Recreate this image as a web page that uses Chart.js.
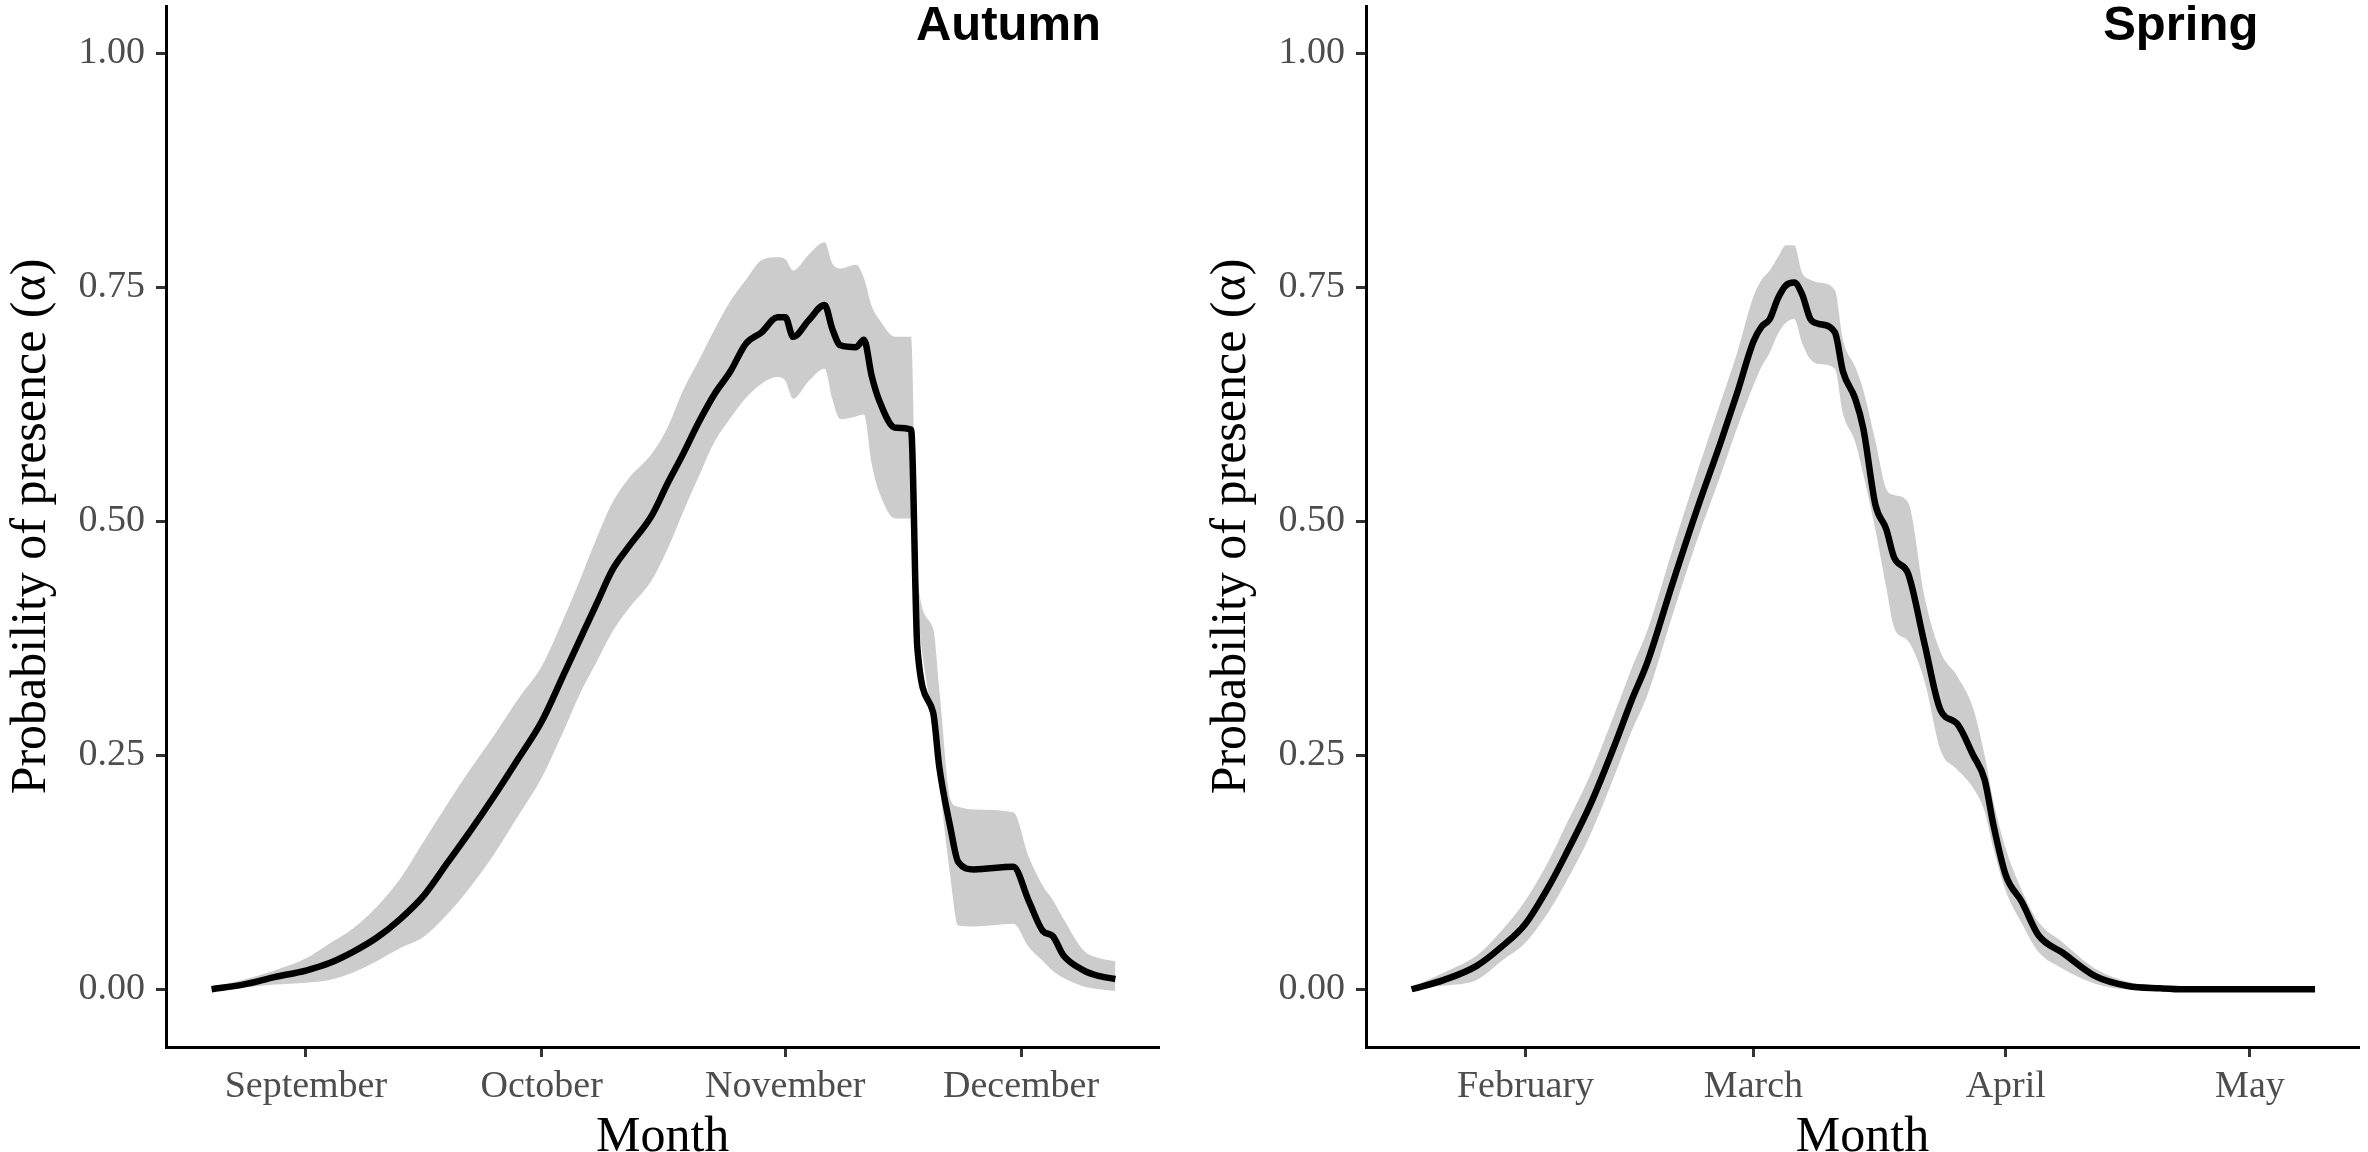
<!DOCTYPE html>
<html><head><meta charset="utf-8">
<script src="https://cdn.jsdelivr.net/npm/chart.js@4/dist/chart.umd.min.js"></script>
<style>
html,body{margin:0;padding:0;background:#fff;width:2368px;height:1152px;overflow:hidden}
.panel{position:absolute;top:0;height:1152px}
#p1{left:0;width:1200px}
#p2{left:1200px;width:1168px}
</style></head><body>
<div class="panel" id="p1"><canvas id="c1"></canvas></div>
<div class="panel" id="p2"><canvas id="c2"></canvas></div>
<script>
// ---------- Autumn (x = days after 1 September) ----------
const autumnDays  = [-12,-8,-4,0,3,6,9,12,15,18,21,24,27,30,33,35,37,39,41,44,46,48,50,52,54,56,58,60,61,62,64,66,67,68,70,71,72,73,75,77,77.8,79.8,80.6,82,83,85,90,92,93.8,95,96.4,99,101,103];
const autumnMean  = [0.000,0.005,0.013,0.020,0.028,0.040,0.055,0.075,0.100,0.135,0.170,0.207,0.246,0.286,0.340,0.376,0.412,0.448,0.472,0.506,0.540,0.572,0.606,0.636,0.660,0.690,0.702,0.718,0.718,0.697,0.715,0.731,0.705,0.688,0.686,0.694,0.655,0.628,0.600,0.598,0.365,0.296,0.237,0.173,0.136,0.128,0.131,0.094,0.062,0.057,0.036,0.020,0.014,0.011];
const autumnUpper = [0.003,0.010,0.020,0.033,0.049,0.065,0.088,0.118,0.158,0.198,0.236,0.272,0.310,0.345,0.400,0.440,0.482,0.520,0.545,0.572,0.600,0.640,0.672,0.705,0.735,0.758,0.779,0.782,0.780,0.768,0.785,0.798,0.775,0.770,0.774,0.760,0.730,0.715,0.697,0.697,0.440,0.386,0.320,0.203,0.195,0.192,0.189,0.141,0.110,0.096,0.075,0.041,0.033,0.030];
const autumnLower = [0.000,0.002,0.005,0.007,0.010,0.018,0.030,0.044,0.056,0.080,0.110,0.145,0.185,0.226,0.280,0.318,0.350,0.382,0.406,0.437,0.470,0.510,0.548,0.585,0.610,0.632,0.647,0.654,0.650,0.631,0.650,0.663,0.630,0.609,0.612,0.614,0.561,0.530,0.503,0.503,0.407,0.280,0.220,0.120,0.068,0.067,0.070,0.045,0.030,0.020,0.012,0.003,0.000,-0.002];
const autumnTickDays   = [0,30,61,91];
const autumnTickLabels = ['September','October','November','December'];

// ---------- Spring (x = days after 1 February) ----------
const springDays  = [-14,-10,-6,-3,0,3,5,8,11,13,15,18,21,24,26,28,29,30,31,32,33,34,35,36,38,39,40.5,41.5,43,44.3,45.3,47,49,51,53,55,56.4,57.5,59,61,63,66,70,74,78,81,90,97];
const springMean  = [0.000,0.010,0.025,0.045,0.070,0.112,0.145,0.198,0.262,0.308,0.350,0.432,0.511,0.585,0.637,0.692,0.708,0.716,0.738,0.752,0.755,0.742,0.716,0.711,0.702,0.660,0.631,0.599,0.517,0.492,0.461,0.444,0.370,0.298,0.284,0.250,0.224,0.175,0.122,0.093,0.058,0.039,0.014,0.0035,0.001,0.000,0.000,0.000];
const springUpper = [0.002,0.018,0.036,0.062,0.095,0.140,0.176,0.230,0.296,0.342,0.384,0.468,0.550,0.628,0.680,0.740,0.758,0.768,0.782,0.795,0.795,0.765,0.758,0.755,0.747,0.694,0.665,0.640,0.585,0.535,0.528,0.520,0.420,0.360,0.335,0.300,0.250,0.200,0.150,0.105,0.072,0.050,0.022,0.008,0.002,0.000,0.000,0.000];
const springLower = [0.000,0.004,0.010,0.030,0.050,0.085,0.115,0.166,0.230,0.275,0.315,0.398,0.478,0.550,0.600,0.645,0.665,0.680,0.700,0.712,0.716,0.690,0.673,0.668,0.663,0.615,0.585,0.550,0.490,0.430,0.386,0.372,0.330,0.255,0.235,0.215,0.190,0.150,0.105,0.070,0.040,0.022,0.006,0.000,0.000,0.000,0.000,0.000];
const springTickDays   = [0,28,59,89];
const springTickLabels = ['February','March','April','May'];

const yTickValues = [0,0.25,0.5,0.75,1];

const SERIF = '"Liberation Serif","Times New Roman",serif';
const SANS  = '"Liberation Sans",Arial,sans-serif';

const panelTitlePlugin = {
  id: 'panelTitle',
  afterDraw(chart, args, opts) {
    const {ctx, chartArea} = chart;
    const x = chart.scales.x.getPixelForValue(opts.day);
    ctx.save();
    ctx.font = 'bold 49px ' + SANS;
    ctx.fillStyle = '#000';
    ctx.textAlign = 'center';
    ctx.textBaseline = 'alphabetic';
    ctx.fillText(opts.text, x, chartArea.top + 34);
    ctx.restore();
  }
};

function pts(xs, ys){ return xs.map((x,i)=>({x:x, y:ys[i]})); }

function makePanel(id, cfg){
  new Chart(document.getElementById(id), {
    type: 'line',
    data: {
      datasets: [
        {data: pts(cfg.days, cfg.lower), order:2, borderColor:'rgba(0,0,0,0)', borderWidth:0, pointRadius:0, fill:false, backgroundColor:'#cccccc', cubicInterpolationMode:'monotone'},
        {data: pts(cfg.days, cfg.upper), order:1, borderColor:'rgba(0,0,0,0)', borderWidth:0, pointRadius:0, fill:'-1', backgroundColor:'#cccccc', cubicInterpolationMode:'monotone'},
        {data: pts(cfg.days, cfg.mean), order:0, borderColor:'#000', borderWidth:6.5, pointRadius:0, fill:false, cubicInterpolationMode:'monotone', borderJoinStyle:'round'}
      ]
    },
    options: {
      responsive: true, maintainAspectRatio: false, animation: false, devicePixelRatio: 1,
      layout: {padding: {left:0, top:6, right:cfg.padRight, bottom:0}},
      plugins: {legend:{display:false}, tooltip:{enabled:false}, panelTitle:{text:cfg.title, day:cfg.titleDay}},
      scales: {
        x: {
          type:'linear', min:cfg.xMin, max:cfg.xMax,
          afterBuildTicks: a => { a.ticks = cfg.tickDays.map(v=>({value:v})); },
          afterFit: a => { a.height = 105; a.paddingLeft = 0; a.paddingRight = 0; },
          ticks: {callback:(v,i)=>cfg.tickLabels[i], font:{family:SERIF, size:38}, color:'#4d4d4d', padding:7, maxRotation:0, autoSkip:false},
          grid: {display:true, drawOnChartArea:false, drawTicks:true, tickLength:10, tickWidth:3, tickColor:'#333333'},
          border: {display:true, color:'#000', width:3},
          title: {display:true, text:'Month', color:'#000', font:{family:SERIF, size:50, lineHeight:0.56}, padding:{top:0,bottom:0}}
        },
        y: {
          type:'linear', min:-0.0617, max:1.0505,
          afterBuildTicks: a => { a.ticks = yTickValues.map(v=>({value:v})); },
          afterFit: a => { a.width = 166; a.paddingTop = 0; a.paddingBottom = 0; },
          ticks: {callback:v=>Number(v).toFixed(2), font:{family:SERIF, size:38}, color:'#4d4d4d', padding:11},
          grid: {display:true, drawOnChartArea:false, drawTicks:true, tickLength:10, tickWidth:3, tickColor:'#333333'},
          border: {display:true, color:'#000', width:3},
          title: {display:true, text:'Probability of presence (\u03b1)', color:'#000', font:{family:SERIF, size:50, lineHeight:1.2}, padding:{top:2,bottom:0}}
        }
      }
    },
    plugins: [panelTitlePlugin]
  });
}

makePanel('c1', {days:autumnDays, mean:autumnMean, upper:autumnUpper, lower:autumnLower,
  tickDays:autumnTickDays, tickLabels:autumnTickLabels, xMin:-17.8, xMax:108.6, padRight:40.6,
  title:'Autumn', titleDay:89.4});
makePanel('c2', {days:springDays, mean:springMean, upper:springUpper, lower:springLower,
  tickDays:springTickDays, tickLabels:springTickLabels, xMin:-19.6, xMax:102.4, padRight:9,
  title:'Spring', titleDay:80.5});
</script>
</body></html>
